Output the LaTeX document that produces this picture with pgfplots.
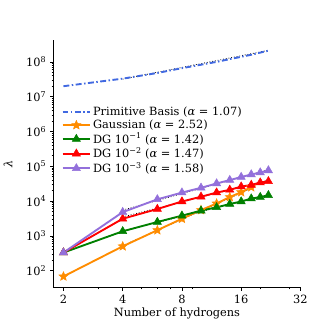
\documentclass[border=0pt]{standalone}
\usepackage{pgfplots}
\pgfplotsset{compat=1.18}
\usepackage{fontspec}
\setmainfont{DejaVu Serif}

\definecolor{cprim}{RGB}{65,105,225}
\definecolor{cgauss}{RGB}{255,140,0}
\definecolor{cdg1}{RGB}{0,128,0}
\definecolor{cdg2}{RGB}{255,0,0}
\definecolor{cdg3}{RGB}{147,112,219}

% filled five-point star
\pgfdeclareplotmark{fstar}{%
  \pgfpathmoveto{\pgfpointpolar{90}{\pgfplotmarksize}}%
  \pgfpathlineto{\pgfpointpolar{126}{0.45\pgfplotmarksize}}%
  \pgfpathlineto{\pgfpointpolar{162}{\pgfplotmarksize}}%
  \pgfpathlineto{\pgfpointpolar{198}{0.45\pgfplotmarksize}}%
  \pgfpathlineto{\pgfpointpolar{234}{\pgfplotmarksize}}%
  \pgfpathlineto{\pgfpointpolar{270}{0.45\pgfplotmarksize}}%
  \pgfpathlineto{\pgfpointpolar{306}{\pgfplotmarksize}}%
  \pgfpathlineto{\pgfpointpolar{342}{0.45\pgfplotmarksize}}%
  \pgfpathlineto{\pgfpointpolar{18}{\pgfplotmarksize}}%
  \pgfpathlineto{\pgfpointpolar{54}{0.45\pgfplotmarksize}}%
  \pgfpathclose
  \pgfusepathqfillstroke
}

\begin{document}
{\fontsize{11.5pt}{13.8pt}\selectfont
\begin{tikzpicture}
\begin{axis}[
    scale only axis,
    width=250pt, height=251pt,
    xmode=log, ymode=log,
    log basis x=2,
    xmin=1.78, xmax=32,
    ymin=32.9, ymax=4.4e8,
    axis x line*=bottom,
    axis y line*=left,
    axis line style={black, line width=0.8pt},
    tick align=outside,
    tick style={black, line width=0.6pt},
    major tick length=3.5pt,
    minor tick length=2pt,
    xminorticks=false,
    xtick={2,4,8,16,32},
    xticklabels={2,4,8,16,32},
    extra x ticks={3,5,6,7,9,20,28},
    extra x tick labels={},
    extra x tick style={major tick length=2pt},
    ytick={1e2,1e3,1e4,1e5,1e6,1e7,1e8},
    yticklabels={10\textsuperscript{2},10\textsuperscript{3},10\textsuperscript{4},10\textsuperscript{5},10\textsuperscript{6},10\textsuperscript{7},10\textsuperscript{8}},
    xlabel={Number of hydrogens},
    ylabel={\textit{λ}},
    ylabel style={at={(axis description cs:-0.15,0.5)}, anchor=south},
    xlabel style={at={(axis description cs:0.5,-0.065)}, anchor=north},
    legend style={draw=none, fill=none, at={(0.02,0.745)}, anchor=north west,
        row sep=-1.2pt, font=\fontsize{11.5pt}{13.8pt}\selectfont},
    legend cell align=left,
    legend image code/.code={%
        \draw[mark repeat=2, mark phase=2] plot coordinates {(0pt,0pt) (14pt,0pt) (28pt,0pt)};},
]
% power-law fits (dotted), drawn beneath the series
\addplot[black, dotted, line width=0.8pt, forget plot] coordinates {(4,3.2e7) (22,2.15e8)};
\addplot[black, dotted, line width=0.8pt, forget plot] coordinates {(4,520) (18,2.3e4)};
\addplot[black, dotted, line width=0.8pt, forget plot] coordinates {(4,1380) (22,1.5e4)};
\addplot[black, dotted, line width=0.8pt, forget plot] coordinates {(4,3500) (22,4.0e4)};
\addplot[black, dotted, line width=0.8pt, forget plot] coordinates {(4,5500) (22,8.0e4)};

\addplot[cprim, line width=1.9pt, dash pattern=on 6pt off 2.5pt on 1.5pt off 2.5pt] coordinates {
    (2,2.0e7) (4,3.3e7) (6,4.8e7) (8,6.6e7) (10,8.3e7) (12,1.0e8)
    (14,1.2e8) (16,1.4e8) (18,1.6e8) (20,1.85e8) (22,2.1e8)
};
\addlegendentry{Primitive Basis (\textit{α} = 1.07)}

\addplot[cgauss, line width=1.9pt, mark=fstar, mark size=4.8pt, mark options={solid, line width=0.5pt}] coordinates {
    (2,68) (4,500) (6,1450) (8,3100) (10,5500) (12,8500)
    (14,1.3e4) (16,1.8e4) (18,2.5e4)
};
\addlegendentry{Gaussian (\textit{α} = 2.52)}

\addplot[cdg1, line width=1.9pt, mark=triangle*, mark size=4.8pt, mark options={solid, line width=0.5pt}] coordinates {
    (2,330) (4,1350) (6,2500) (8,3800) (10,5300) (12,6600)
    (14,8200) (16,9700) (18,1.18e4) (20,1.3e4) (22,1.47e4)
};
\addlegendentry{DG 10\textsuperscript{−1} (\textit{α} = 1.42)}

\addplot[cdg2, line width=1.9pt, mark=triangle*, mark size=4.8pt, mark options={solid, line width=0.5pt}] coordinates {
    (2,330) (4,3100) (6,5900) (8,9700) (10,1.33e4) (12,1.75e4)
    (14,2.1e4) (16,2.6e4) (18,2.9e4) (20,3.4e4) (22,3.7e4)
};
\addlegendentry{DG 10\textsuperscript{−2} (\textit{α} = 1.47)}

\addplot[cdg3, line width=1.9pt, mark=triangle*, mark size=4.8pt, mark options={solid, line width=0.5pt}] coordinates {
    (2,330) (4,4800) (6,1.12e4) (8,1.75e4) (10,2.4e4) (12,3.2e4)
    (14,4.0e4) (16,4.9e4) (18,5.8e4) (20,6.6e4) (22,7.6e4)
};
\addlegendentry{DG 10\textsuperscript{−3} (\textit{α} = 1.58)}
\end{axis}
\useasboundingbox (-50pt,-42pt) rectangle (283pt,291pt);
\end{tikzpicture}}
\end{document}
